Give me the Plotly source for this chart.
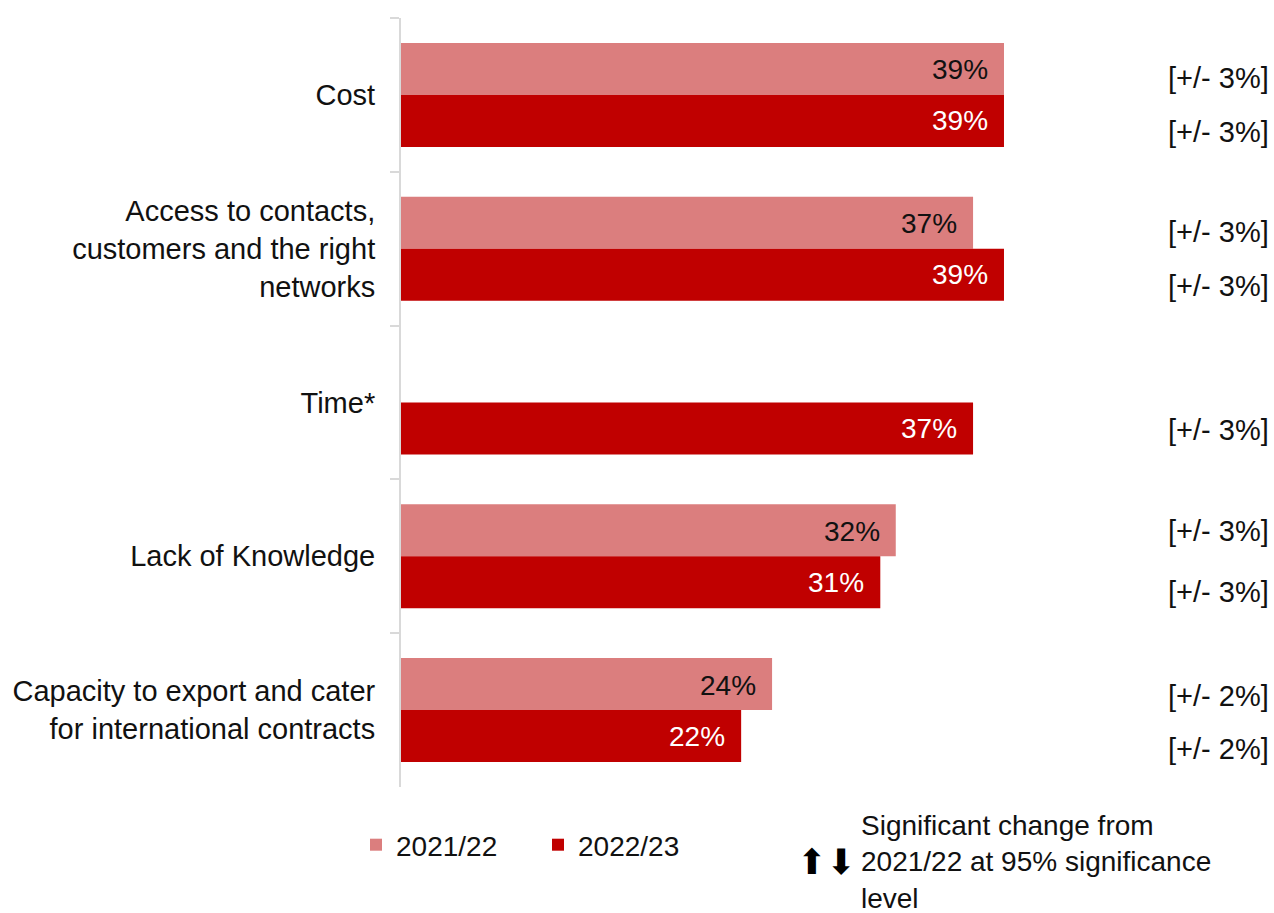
import plotly.graph_objects as go

# Barriers to exporting: share of businesses citing each barrier
categories = [
    "Cost",
    "Access to contacts,<br>customers and the right<br>networks",
    "Time*",
    "Lack of Knowledge",
    "Capacity to export and cater<br>for international contracts",
]
values_2122 = [39, 37, None, 32, 24]
values_2223 = [39, 39, 37, 31, 22]
moe_2122 = ["[+/- 3%]", "[+/- 3%]", None, "[+/- 3%]", "[+/- 2%]"]
moe_2223 = ["[+/- 3%]", "[+/- 3%]", "[+/- 3%]", "[+/- 3%]", "[+/- 2%]"]
series_names = ["2021/22", "2022/23"]

FONT = "Liberation Sans, Arial, sans-serif"
LIGHT = "#DB7E7E"
DARK = "#C00000"
AXIS_GREY = "#D9D9D9"

W, H = 1274, 913
M_L, M_R, M_T, M_B = 401, 3, 18, 126
PLOT_W = W - M_L - M_R
PLOT_H = H - M_T - M_B


def px_to_paper(px, py):
    return (px - M_L) / PLOT_W, (H - M_B - py) / PLOT_H


fig = go.Figure()
fig.add_trace(go.Bar(y=categories, x=values_2122, name=series_names[0],
                     orientation="h", marker=dict(color=LIGHT, line_width=0)))
fig.add_trace(go.Bar(y=categories, x=values_2223, name=series_names[1],
                     orientation="h", marker=dict(color=DARK, line_width=0)))

annotations = []
# value labels inside the bar ends
for vals, shift, col in [(values_2122, 25, "#111111"), (values_2223, -26, "#FFFFFF")]:
    for cat, v in zip(categories, vals):
        if v is None:
            continue
        annotations.append(dict(x=v, y=cat, xref="x", yref="y", text=f"{v}%",
                                showarrow=False, xanchor="right", xshift=-14,
                                yshift=shift, font=dict(family=FONT, size=28, color=col)))

# margin-of-error labels on the right
moe_shift_light = [17, 17, 0, 25, 14]
moe_shift_dark = [-37, -37, -27, -36, -39]
for moes, shifts in [(moe_2122, moe_shift_light), (moe_2223, moe_shift_dark)]:
    for cat, m, s in zip(categories, moes, shifts):
        if m is None:
            continue
        annotations.append(dict(x=1, y=cat, xref="paper", yref="y", text=m,
                                showarrow=False, xanchor="right", yshift=s,
                                font=dict(family=FONT, size=29, color="#111111")))

# significance key: up / down arrows followed by the explanation
ax, ay = px_to_paper(826, 862)
annotations.append(dict(x=ax, y=ay, xref="paper", yref="paper",
                        text="⬆⬇", showarrow=False, xanchor="center", yanchor="middle",
                        borderpad=0,
                        font=dict(family="DejaVu Sans", size=35, color="#000000")))
tx, ty = px_to_paper(859, 862)
annotations.append(dict(x=tx, y=ty, xref="paper", yref="paper",
                        text="Significant change from<br>2021/22 at 95% significance<br>level",
                        showarrow=False, xanchor="left", yanchor="middle", align="left",
                        font=dict(family=FONT, size=28, color="#111111")))

fig.update_layout(
    width=W, height=H,
    margin=dict(l=M_L, r=M_R, t=M_T, b=M_B),
    paper_bgcolor="white", plot_bgcolor="white",
    barmode="group", bargap=0.324, bargroupgap=0,
    font=dict(family=FONT, size=28, color="#111111"),
    xaxis=dict(range=[0, 56.27], visible=False, fixedrange=True),
    yaxis=dict(type="category", range=[4.5, -0.5], showline=True, linecolor=AXIS_GREY,
               linewidth=2, ticks="outside", tickson="boundaries", ticklen=9,
               tickwidth=2, tickcolor=AXIS_GREY, showgrid=False, zeroline=False,
               ticklabelstandoff=18, tickfont=dict(family=FONT, size=29, color="#111111")),
    showlegend=True,
    legend=dict(orientation="h", xref="container", yref="container",
                x=356 / W, y=1 - 845 / H, xanchor="left", yanchor="middle",
                font=dict(family=FONT, size=28, color="#111111"),
                entrywidth=137, entrywidthmode="pixels", traceorder="normal",
                bgcolor="rgba(0,0,0,0)"),
    annotations=annotations,
)

fig.write_html("out.html")
